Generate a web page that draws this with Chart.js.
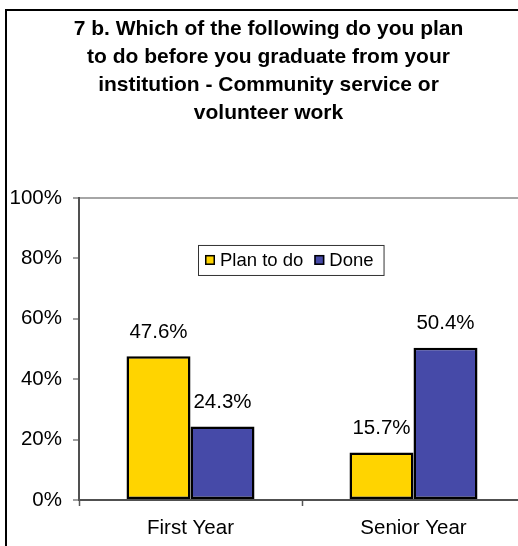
<!DOCTYPE html>
<html>
<head>
<meta charset="utf-8">
<script src="https://cdn.jsdelivr.net/npm/chart.js@4.4.1/dist/chart.umd.min.js"></script>
<style>
	html, body { margin: 0; padding: 0; background: #fff; overflow: hidden; }
	#surveyChart { display: block; }
</style>
</head>
<body>
<canvas id="surveyChart" width="540" height="546"></canvas>
<script>
var titleLines = [
	'7 b. Which of the following do you plan',
	'to do before you graduate from your',
	'institution - Community service or',
	'volunteer work'
];
var categories = ['First Year', 'Senior Year'];
var seriesNames = ['Plan to do', 'Done'];
var planToDo = [47.6, 15.7];
var done = [24.3, 50.4];
var yTicks = [0, 20, 40, 60, 80, 100];

var barColors = ['#FFD400', '#464AA8'];
var fontFamily = '"Liberation Sans", Arial, sans-serif';

Chart.defaults.font.family = fontFamily;
Chart.defaults.color = '#000';

// outer frame like the spreadsheet chart border
var framePlugin = {
	id: 'frame',
	beforeDraw: function(chart){
		var ctx = chart.ctx;
		ctx.save();
		ctx.fillStyle = '#fff';
		ctx.fillRect(0, 0, chart.width, chart.height);
		ctx.strokeStyle = '#000';
		ctx.lineWidth = 2;
		ctx.strokeRect(6, 10, 525, 560);
		ctx.restore();
	}
};

// value labels above each bar
var valueLabels = {
	id: 'valueLabels',
	afterDatasetsDraw: function(chart){
		var ctx = chart.ctx;
		ctx.save();
		ctx.font = '20.5px ' + fontFamily;
		ctx.fillStyle = '#000';
		ctx.textAlign = 'center';
		ctx.textBaseline = 'middle';
		chart.data.datasets.forEach(function(ds, i){
			var meta = chart.getDatasetMeta(i);
			meta.data.forEach(function(bar, j){
				ctx.fillText(ds.data[j].toFixed(1) + '%', bar.x, bar.y - 24);
			});
		});
		ctx.restore();
	}
};

// legend box sitting inside the plot area
var boxLegend = {
	id: 'boxLegend',
	afterDraw: function(chart){
		var ctx = chart.ctx;
		var area = chart.chartArea;
		var left = area.left + 119;
		var top = area.top + 47;
		var h = 30;
		ctx.save();
		ctx.font = '18.5px ' + fontFamily;
		var x = left + 7;
		var items = [];
		chart.data.datasets.forEach(function(ds){
			var w = ctx.measureText(ds.label).width;
			items.push({ label: ds.label, color: ds.backgroundColor, x: x });
			x += 10 + 5 + w + 11;
		});
		var width = x - 11 + 10 - left;
		ctx.fillStyle = '#fff';
		ctx.fillRect(left, top, width, h);
		ctx.strokeStyle = '#333';
		ctx.lineWidth = 1;
		ctx.strokeRect(left + 0.5, top + 0.5, width, h);
		items.forEach(function(it){
			ctx.fillStyle = it.color;
			ctx.fillRect(it.x, top + 10, 10, 10);
			ctx.strokeStyle = '#000';
			ctx.lineWidth = 1.5;
			ctx.strokeRect(it.x + 0.75, top + 10.75, 8.5, 8.5);
			ctx.fillStyle = '#000';
			ctx.textBaseline = 'middle';
			ctx.textAlign = 'left';
			ctx.fillText(it.label, it.x + 15, top + 16);
		});
		ctx.restore();
	}
};

var surveyChart = new Chart(document.getElementById('surveyChart'), {
	type: 'bar',
	data: {
		labels: categories,
		datasets: [{
			label: seriesNames[0],
			data: planToDo,
			backgroundColor: barColors[0],
			borderColor: '#000',
			borderWidth: 2.5,
			borderSkipped: false
		}, {
			label: seriesNames[1],
			data: done,
			backgroundColor: barColors[1],
			borderColor: '#000',
			borderWidth: 2.5,
			borderSkipped: false
		}]
	},
	options: {
		responsive: false,
		animation: false,
		categoryPercentage: 0.574,
		barPercentage: 1,
		layout: {
			padding: { top: 10, left: 6, right: 9, bottom: 0 }
		},
		plugins: {
			legend: { display: false },
			tooltip: { enabled: false },
			title: {
				display: true,
				text: titleLines,
				color: '#000',
				font: { size: 21, weight: 'bold', lineHeight: 1.333 },
				padding: { top: 5, bottom: 71 }
			}
		},
		scales: {
			x: {
				grid: {
					drawOnChartArea: false,
					drawTicks: true,
					tickLength: 6,
					tickColor: '#555',
					tickWidth: 1.5,
					offset: true
				},
				border: { color: '#505050', width: 2 },
				ticks: {
					font: { size: 20.5 },
					padding: 10
				},
				afterFit: function(scale){ scale.height = 46; }
			},
			y: {
				min: 0,
				max: 100,
				afterBuildTicks: function(scale){
					scale.ticks = yTicks.map(function(v){ return { value: v }; });
				},
				grid: {
					color: function(c){ return c.tick && c.tick.value === 100 ? '#A6A6A6' : 'rgba(0,0,0,0)'; },
					lineWidth: 2,
					tickColor: '#808080',
					tickWidth: 1.5,
					tickLength: 6
				},
				border: { color: '#505050', width: 2 },
				ticks: {
					font: { size: 20.5 },
					padding: 11,
					callback: function(v){ return v + '%'; }
				},
				afterFit: function(scale){ scale.width = 73; }
			},
			y2: {
				position: 'right',
				display: true,
				grid: { display: false },
				border: { display: false },
				ticks: { display: false },
				afterFit: function(scale){ scale.width = 6; }
			}
		}
	},
	plugins: [framePlugin, valueLabels, boxLegend]
});
</script>
</body>
</html>
